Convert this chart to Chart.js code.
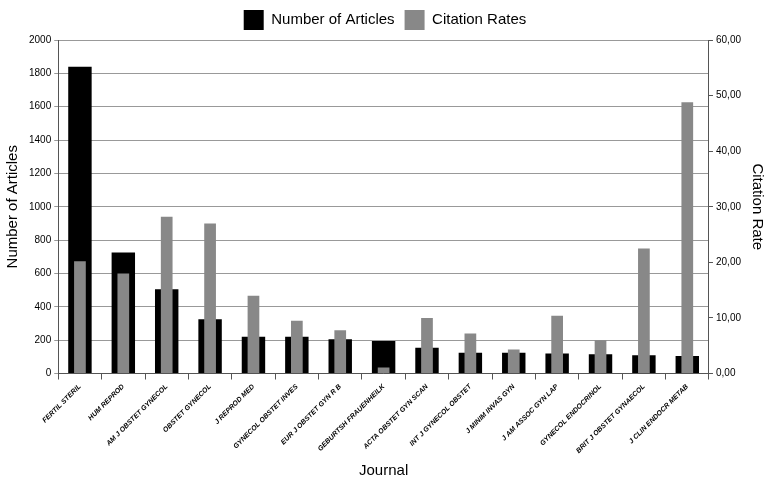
<!DOCTYPE html>
<html><head><script src="https://cdn.jsdelivr.net/npm/chart.js@4"></script>
<style>body{margin:0;background:#fff}#w{width:774px;height:484px}</style></head>
<body><div id="w"><canvas id="c"></canvas></div>
<script>
const journals=["FERTIL STERIL","HUM REPROD","AM J OBSTET GYNECOL","OBSTET GYNECOL","J REPROD MED","GYNECOL OBSTET INVES","EUR J OBSTET GYN R B","GEBURTSH FRAUENHEILK","ACTA OBSTET GYN SCAN","INT J GYNECOL OBSTET","J MINIM INVAS GYN","J AM ASSOC GYN LAP","GYNECOL ENDOCRINOL","BRIT J OBSTET GYNAECOL","J CLIN ENDOCR METAB"];
const articles=[1840,725,505,325,220,220,205,195,155,125,125,120,115,110,105];
const citation=[20.2,18.0,28.2,27.0,14.0,9.5,7.8,1.1,10.0,7.2,4.3,10.4,6.0,22.5,48.8];
new Chart(document.getElementById('c'),{type:'bar',
data:{labels:journals,datasets:[
{label:'Number of Articles',data:articles,backgroundColor:'#000',yAxisID:'y',grouped:false,barPercentage:0.54,categoryPercentage:1,order:1},
{label:'Citation Rates',data:citation,backgroundColor:'#888',yAxisID:'y1',grouped:false,barPercentage:0.27,categoryPercentage:1,order:0}]},
options:{responsive:true,maintainAspectRatio:false,animation:false,
layout:{padding:{left:0,right:4,top:0,bottom:0}},
plugins:{legend:{labels:{boxWidth:20,boxHeight:20,color:'#000',font:{size:15,family:'Liberation Sans'},sort:(a,b)=>a.datasetIndex-b.datasetIndex}},tooltip:{enabled:false}},
scales:{
x:{grid:{offset:true,drawOnChartArea:false,tickLength:6,color:'#555'},border:{color:'#555'},
ticks:{maxRotation:45,minRotation:45,color:'#000',font:{size:7,weight:'bold',style:'italic',family:'Liberation Sans'}},
title:{display:true,text:'Journal',color:'#000',font:{size:15,family:'Liberation Sans'}}},
y:{min:0,max:2000,ticks:{stepSize:200,color:'#000',font:{size:10,family:'Liberation Sans'},callback:v=>String(v)},grid:{color:'#999',tickLength:4},border:{color:'#555'},
title:{display:true,text:'Number of Articles',color:'#000',font:{size:15,family:'Liberation Sans'}}},
y1:{position:'right',min:0,max:60,ticks:{stepSize:10,color:'#000',font:{size:10,family:'Liberation Sans'},callback:v=>v.toFixed(2).replace('.',',')},grid:{drawOnChartArea:false,tickLength:4,color:'#555'},border:{color:'#555'},
title:{display:true,text:'Citation Rate',color:'#000',font:{size:15,family:'Liberation Sans'}}}}}});
</script></body></html>
